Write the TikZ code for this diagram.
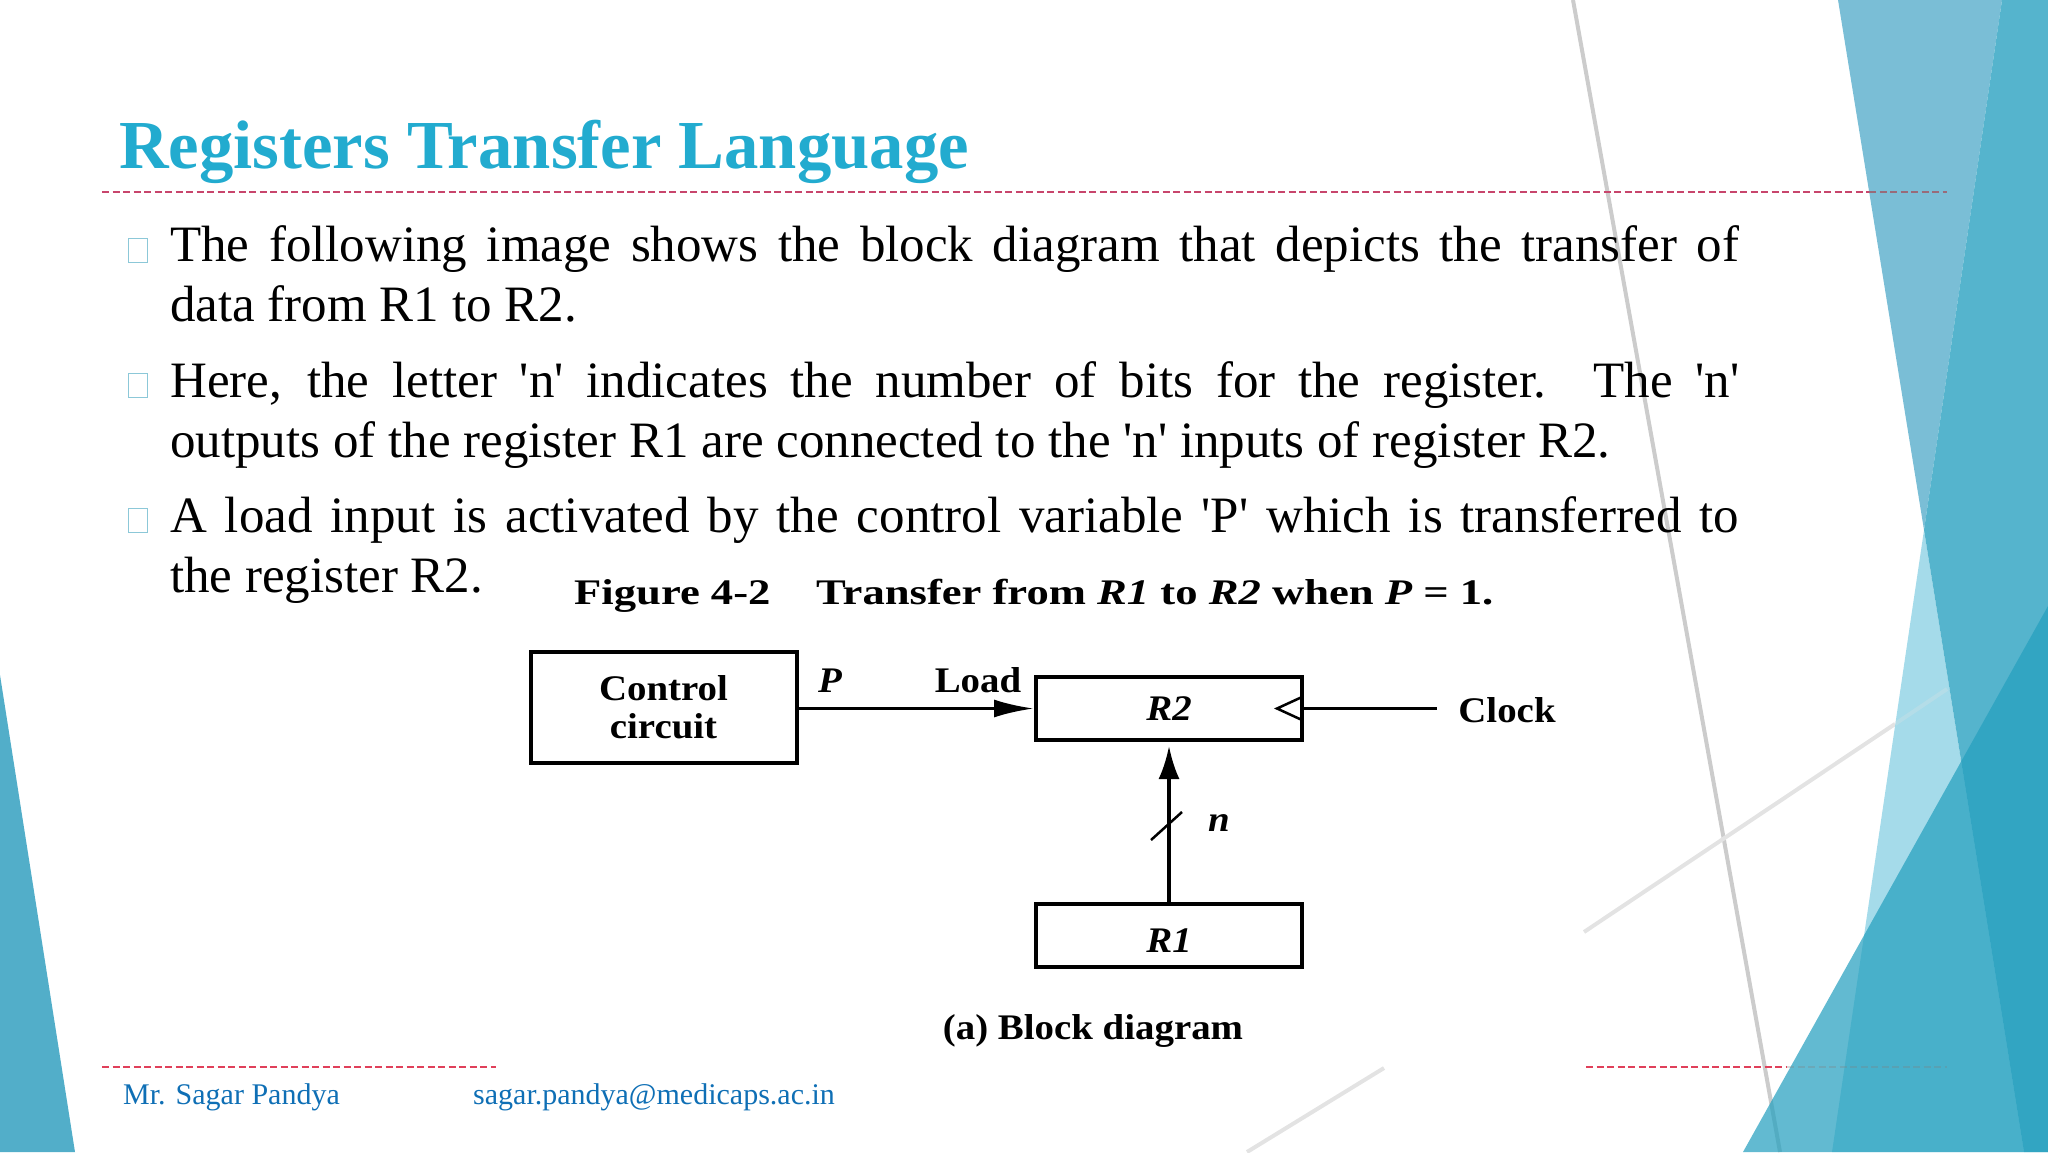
\documentclass[tikz,border=0pt]{standalone}
\usepackage{fontspec}
\usepackage{tikz}
\usetikzlibrary{arrows.meta}
\newfontfamily\bodyfont{Liberation Serif}
\newfontfamily\scanfont[FakeStretch=1.08]{Liberation Serif}
\newfontfamily\capfont[FakeStretch=1.24]{Liberation Serif}
\definecolor{titleblue}{HTML}{22ABCF}
\definecolor{footblue}{HTML}{0F6FB5}
\definecolor{dashrose}{HTML}{C8456C}
\definecolor{dashred}{HTML}{E0405A}
\definecolor{bulletline}{HTML}{8CC8D8}
\definecolor{wedgea}{HTML}{7ABED6}
\definecolor{wedgeb}{HTML}{A5DBEA}
\definecolor{wedgeab}{HTML}{55B4CD}
\definecolor{wedgec}{HTML}{25A0BF}
\definecolor{wedgeleft}{HTML}{52AEC9}
\newcommand{\fullline}[1]{\makebox[1569pt][s]{#1}}
\begin{document}
\begin{tikzpicture}[x=1pt, y=-1pt,
    para/.style = {anchor=base west, inner sep=0, align=left, font=\bodyfont\fontsize{51}{60}\selectfont},
    bulletbox/.style = {draw=bulletline, line width=1pt, minimum width=19pt, minimum height=24pt, inner sep=0},
    block/.style = {draw, line width=4pt, inner sep=0, align=center, font=\scanfont\bfseries\fontsize{36}{38}\selectfont},
    scan/.style = {inner sep=0, anchor=base west, font=\scanfont\bfseries\fontsize{36}{38}\selectfont},
    caption/.style = {inner sep=0, anchor=base west, font=\capfont\bfseries\fontsize{36}{38}\selectfont},
    foot/.style = {inner sep=0, anchor=base west, text=footblue, font=\bodyfont\fontsize{30}{32}\selectfont},
    rule/.style = {line width=1.5pt, dash pattern=on 7pt off 3.5pt},
    wire/.style = {line width=3.5pt},
    streak/.style = {line width=4pt, draw=gray!40},
    faintstreak/.style = {line width=4pt, draw=gray!22}]
    \useasboundingbox (0,0) rectangle (2048,1152);

    % faint streaks
    \draw[streak] (1573,0) -- (1780,1152);
    \draw[faintstreak] (1584,932) -- (1895,724);
    \draw[faintstreak] (1247,1152) -- (1384,1068);

    % coloured wedges
    \fill[wedgea] (1838,0) -- (2002,0) -- (1924,530) -- cycle;
    \fill[wedgeb] (1924,530) -- (2024,1152) -- (1832,1152) -- cycle;
    \fill[wedgeab] (2002,0) -- (2048,0) -- (2048,1152) -- (2024,1152) -- (1924,530) -- cycle;
    \fill[wedgeleft] (0,675) -- (75,1152) -- (0,1152) -- cycle;
    \draw[rule, dashred] (1586,1067) -- (1787,1067);
    \fill[wedgec, opacity=0.72] (2048,606) -- (2048,1152) -- (1743,1152) -- cycle;
    \draw[rule, gray, opacity=0.3] (1787,1067) -- (1947,1067);
    \draw[faintstreak, opacity=0.25] (1895,724) -- (1947,689);

    % title and rules
    \node[inner sep=0, anchor=base west, text=titleblue, font=\bodyfont\bfseries\fontsize{68.7}{70}\selectfont] (title) at (119,168) {Registers Transfer Language};
    \draw[rule, dashrose] (102,192) -- (1869,192);
    \draw[rule, dashrose!35!gray] (1869,192) -- (1947,192);
    \draw[rule, dashred] (102,1067) -- (496,1067);

    % bullets
    \node[bulletbox] (b1) at (137.5,250) {};
    \node[bulletbox] (b2) at (137.5,385) {};
    \node[bulletbox] (b3) at (137.5,520) {};
    \node[para] (p1) at (170,321) {\fullline{The following image shows the block diagram that depicts the transfer of}\\data from R1 to R2.};
    \node[para] (p2) at (170,457) {\fullline{Here, the letter 'n' indicates the number of bits for the register. The 'n'}\\outputs of the register R1 are connected to the 'n' inputs of register R2.};
    \node[para] (p3) at (170,592) {\fullline{A load input is activated by the control variable 'P' which is transferred to}\\the register R2.};

    % figure
    \node[caption] (figno) at (574,604) {Figure 4-2};
    \node[caption] (figcap) at (816,604) {Transfer from {\itshape R1} to {\itshape R2} when {\itshape P} = 1.};
    \node[block, minimum width=266pt, minimum height=111pt] (ctrl) at (663.5,707.5) {Control\\circuit};
    \node[block, minimum width=266pt, minimum height=63pt] (rtwo) at (1169,708.5) {\itshape R2};
    \node[block, minimum width=266pt, minimum height=63pt] (rone) at (1169,935.5) {\rule{0pt}{34pt}\itshape R1};
    \coordinate (clkend) at (1437,708.5);
    \coordinate (slasha) at (1151,840);
    \coordinate (slashb) at (1182,812);
    \coordinate (tria) at (1302,697);
    \coordinate (trib) at (1277,708.5);
    \coordinate (tric) at (1302,720);

    \draw[wire, -{Latex[length=40pt,width=18pt]}] (ctrl.east |- rtwo.west) -- (rtwo.west);
    \draw[wire] (rtwo.east) -- (clkend);
    \draw[wire, -{Latex[length=33pt,width=21pt]}] (rone.north) -- (1169,746);
    \draw[line width=2.5pt] (slasha) -- (slashb);
    \draw[line width=2.5pt] (tria) -- (trib) -- (tric);

    \node[scan, anchor=base] (plabel) at (830,692) {\itshape P};
    \node[scan, anchor=base] (loadlabel) at (978,692) {Load};
    \node[scan, anchor=base] (clocklabel) at (1507,722) {Clock};
    \node[scan, anchor=base] (nlabel) at (1219,831) {\itshape n};
    \node[scan, anchor=base] (sublabel) at (1093,1039) {(a) Block diagram};

    % footer
    \node[foot] (author) at (123,1104) {Mr. Sagar Pandya};
    \node[foot] (mail) at (473,1104) {sagar.pandya@medicaps.ac.in};
\end{tikzpicture}
\end{document}
